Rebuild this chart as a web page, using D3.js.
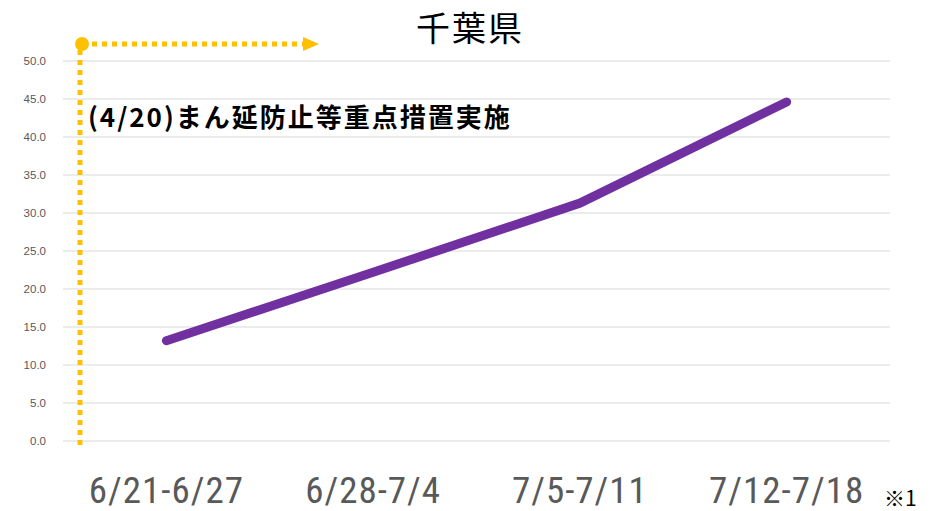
<!DOCTYPE html>
<html>
<head>
<meta charset="utf-8">
<script src="https://cdn.jsdelivr.net/npm/d3@7"></script>
<style>
  body { margin: 0; background: #fff; }
  svg { display: block; }
</style>
</head>
<body>
<div id="chart"></div>
<script>
// data
const weeks = ['6/21-6/27', '6/28-7/4', '7/5-7/11', '7/12-7/18'];
const values = [13.2, 22.2, 31.3, 44.6];
const yTicks = [0, 5, 10, 15, 20, 25, 30, 35, 40, 45, 50];
const title = '千葉県';
const note = '(4/20)まん延防止等重点措置実施';

const W = 941, H = 511;
const margin = { top: 61, right: 51, bottom: 70, left: 63 };

const svg = d3.select('#chart').append('svg').attr('width', W).attr('height', H);

const x = d3.scaleBand().domain(weeks).range([margin.left, W - margin.right]);
const y = d3.scaleLinear().domain([0, 50]).range([H - margin.bottom, margin.top]);

// gridlines
svg.append('g')
    .selectAll('line')
    .data(yTicks)
    .enter()
    .append('line')
    .attr('x1', margin.left)
    .attr('x2', W - margin.right)
    .attr('y1', d => y(d))
    .attr('y2', d => y(d))
    .attr('stroke', '#d9d9d9')
    .attr('stroke-width', 1);

// y axis labels
svg.append('g')
    .selectAll('text')
    .data(yTicks)
    .enter()
    .append('text')
    .attr('x', 46)
    .attr('y', d => y(d) + 4)
    .attr('text-anchor', 'end')
    .attr('font-family', 'Liberation Sans, Arial, sans-serif')
    .attr('font-size', 11.5)
    .attr('fill', '#595959')
    .text(d => d.toFixed(1));

// x axis labels
svg.append('g')
    .selectAll('text')
    .data(weeks)
    .enter()
    .append('text')
    .attr('x', d => x(d) + x.bandwidth() / 2)
    .attr('y', 503)
    .attr('text-anchor', 'middle')
    .attr('font-family', '"Liberation Sans Narrow", "Roboto Condensed", sans-serif')
    .attr('font-size', 37)
    .attr('letter-spacing', 1)
    .attr('fill', '#595959')
    .text(d => d);

// orange marker (dotted arrow)
const orange = '#FFC000';
svg.append('line')
    .attr('x1', 80).attr('x2', 80)
    .attr('y1', 50).attr('y2', 448)
    .attr('stroke', orange).attr('stroke-width', 5)
    .attr('stroke-dasharray', '5,5');
svg.append('line')
    .attr('x1', 92).attr('x2', 304)
    .attr('y1', 44).attr('y2', 44)
    .attr('stroke', orange).attr('stroke-width', 5)
    .attr('stroke-dasharray', '5,5');
svg.append('path')
    .attr('d', 'M303,37 L319,44 L303,51 Z')
    .attr('fill', orange);
svg.append('circle')
    .attr('cx', 82).attr('cy', 44).attr('r', 7)
    .attr('fill', orange);

// line
const line = d3.line()
    .x((d, i) => x(weeks[i]) + x.bandwidth() / 2)
    .y(d => y(d));
svg.append('path')
    .datum(values)
    .attr('d', line)
    .attr('fill', 'none')
    .attr('stroke', '#7030A0')
    .attr('stroke-width', 9)
    .attr('stroke-linecap', 'round')
    .attr('stroke-linejoin', 'round');

// annotation
svg.append('text')
    .attr('x', 88)
    .attr('y', 127)
    .attr('font-family', '"Noto Sans CJK JP", sans-serif')
    .attr('font-weight', 'bold')
    .attr('font-size', 26)
    .attr('letter-spacing', 2)
    .attr('fill', '#000')
    .text(note);

// title
svg.append('text')
    .attr('x', 470)
    .attr('y', 41)
    .attr('text-anchor', 'middle')
    .attr('font-family', '"Noto Sans CJK JP", sans-serif')
    .attr('font-size', 34)
    .attr('letter-spacing', 2)
    .attr('fill', '#000')
    .text(title);

// footnote mark
svg.append('text')
    .attr('x', 884)
    .attr('y', 506)
    .attr('font-family', '"Noto Sans CJK JP", sans-serif')
    .attr('font-size', 21)
    .attr('fill', '#000')
    .text('※1');
</script>
</body>
</html>
